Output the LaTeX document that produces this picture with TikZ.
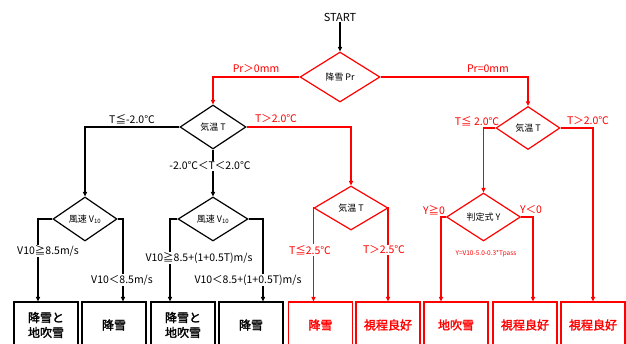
\documentclass[tikz,border=0pt]{standalone}
\usepackage{fontspec}
\setmainfont{Noto Sans CJK JP}
\newfontfamily\bx[FakeBold=2]{Noto Sans CJK JP}
\usetikzlibrary{shapes.geometric,arrows.meta}
\begin{document}
\begin{tikzpicture}[x=1pt,y=-1pt,
  lw/.style={line width=1.2pt},
  arr/.style={lw,-{Triangle[length=4.5pt,width=4pt]}},
  dia/.style={diamond,draw,lw,inner sep=0pt,fill=white,font=\fontsize{9}{10}\selectfont},
  lbl/.style={inner sep=1pt,font=\fontsize{10.5}{12}\selectfont},
  lblw/.style={lbl,fill=white},
  boxk/.style={rectangle,draw,lw,minimum width=64pt,minimum height=46pt,align=center,font=\bx\fontsize{12}{15}\selectfont},
  boxr/.style={boxk,draw=red,text=red}]
\path[use as bounding box,clip] (0,0) rectangle (626,343);
\fill[white] (0,0) rectangle (626,343);

\node[font=\fontsize{11}{13}\selectfont,inner sep=1pt] (start) at (340,17) {START};

% diamonds
\node[dia,draw=red,minimum width=80pt,minimum height=50pt] (d1) at (340,77) {降雪 Pr};
\node[dia,minimum width=66pt,minimum height=44pt] (d2) at (213,127) {気温 T};
\node[dia,minimum width=64pt,minimum height=44pt] (d3) at (85,219) {風速 V\textsubscript{10}};
\node[dia,minimum width=70pt,minimum height=44pt] (d4) at (213,219) {風速 V\textsubscript{10}};
\node[dia,draw=red,minimum width=74pt,minimum height=44pt] (d5) at (351,208) {気温 T};
\node[dia,draw=red,minimum width=64pt,minimum height=43pt] (d6) at (528,128) {気温 T};
\node[dia,draw=red,minimum width=74pt,minimum height=48pt] (d7) at (483.5,217) {判定式 Y};

% boxes
\node[boxk] (b1) at (46,325) {降雪と\\地吹雪};
\node[boxk] (b2) at (114,325) {降雪};
\node[boxk] (b3) at (183,325) {降雪と\\地吹雪};
\node[boxk] (b4) at (251,325) {降雪};
\node[boxr] (b5) at (320.5,325) {降雪};
\node[boxr] (b6) at (388,325) {視程良好};
\node[boxr] (b7) at (456,325) {地吹雪};
\node[boxr] (b8) at (525,325) {視程良好};
\node[boxr] (b9) at (593,325) {視程良好};

% connectors
\draw[arr] (start) -- (d1.north);
\draw[arr,red] (d1.west) -| (d2.north);
\draw[arr,red] (d1.east) -| (d6.north);
\draw[arr] (d2.west) -| (d3.north);
\draw[arr,red] (d2.east) -| (d5.north);
\draw[arr] (d2.south) -- (d4.north);
\draw[arr] (d3.west) -| ([xshift=-8pt]b1.north);
\draw[arr] (d3.east) -| ([xshift=9pt]b2.north);
\draw[arr] (d4.west) -| ([xshift=-13pt]b3.north);
\draw[arr] (d4.east) -| ([xshift=12pt]b4.north);
\draw[arr,red] (d5.west) -| ([xshift=-7pt]b5.north);
\draw[arr,red] (d5.east) -| (b6.north);
\draw[arr,red] (d6.west) -| (d7.north);
\draw[arr,red] (d6.east) -| (b9.north);
\draw[arr,red] (d7.west) -| ([xshift=-15pt]b7.north);
\draw[arr,red] (d7.east) -| ([xshift=8pt]b8.north);

% labels
\node[lbl,text=red] (l1) at (256,69) {Pr＞0mm};
\node[lbl,text=red] (l2) at (488,69) {Pr=0mm};
\node[lbl] (l3) at (132,119) {T≦-2.0℃};
\node[lbl,text=red] (l4) at (276,119) {T＞2.0℃};
\node[lblw] (l5) at (210,166) {-2.0℃＜T＜2.0℃};
\node[lbl,text=red] (l6) at (477,121) {T≦ 2.0℃};
\node[lbl,text=red] (l7) at (588,121) {T＞2.0℃};
\node[lblw] (l8) at (48,251) {V10≧8.5m/s};
\node[lblw] (l9) at (122,280) {V10＜8.5m/s};
\node[lblw] (l10) at (199,258) {V10≧8.5+(1+0.5T)m/s};
\node[lblw] (l11) at (248,280) {V10＜8.5+(1+0.5T)m/s};
\node[lblw,text=red] (l12) at (310,250) {T≦2.5℃};
\node[lblw,text=red] (l13) at (384,250) {T＞2.5℃};
\node[lbl,text=red] (l14) at (434,210) {Y≧0};
\node[lbl,text=red] (l15) at (531,210) {Y＜0};
\node[lblw,text=red,font=\fontsize{6.5}{8}\selectfont] (l16) at (486,254) {Y=V10-5.0-0.3*Tpass};
\end{tikzpicture}
\end{document}
